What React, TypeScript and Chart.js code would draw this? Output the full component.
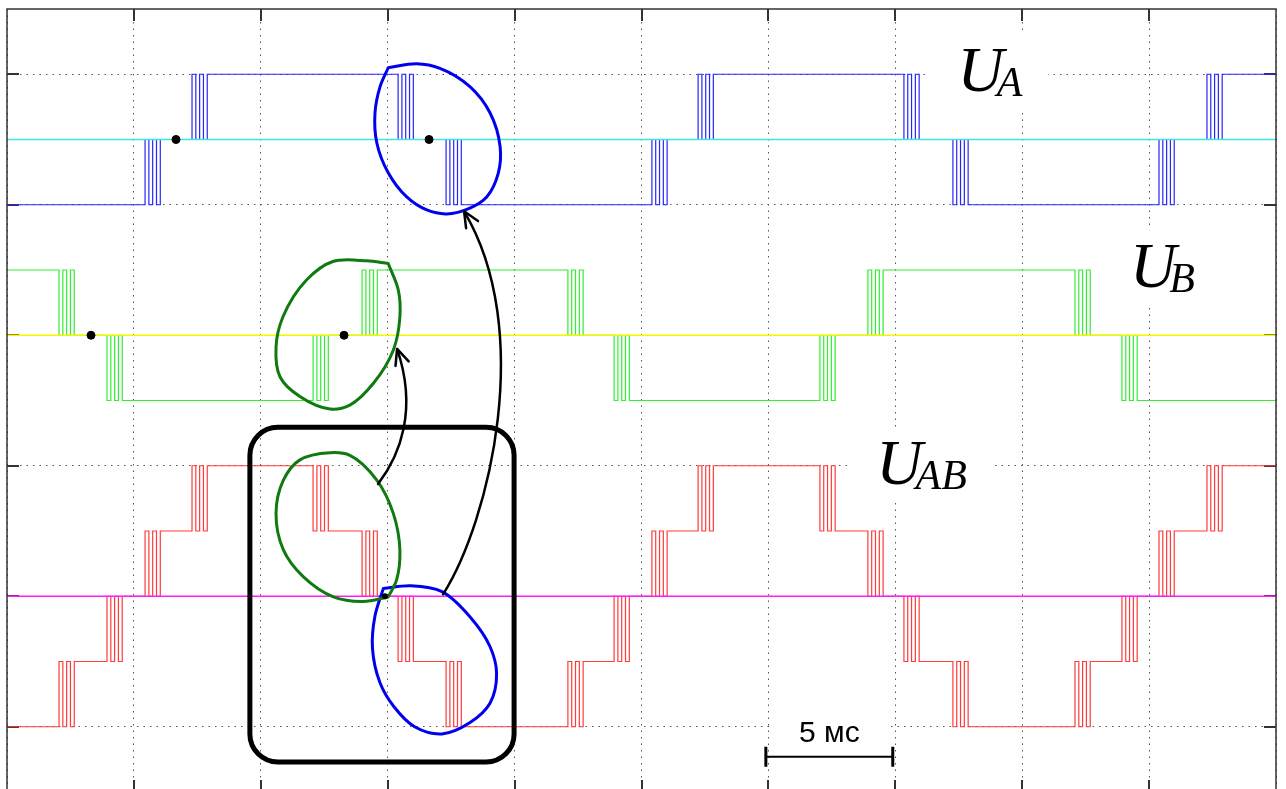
import { useEffect, useRef } from "react";
import { Chart, registerables } from "chart.js";

Chart.register(...registerables);

// ---------- axes ----------
const T_MAX_MS = 50;
const X_GRID_STEP_MS = 5;
const Y_MIN = 0;
const Y_MAX = 12;
const Y_GRID = [1, 3, 5, 7, 9, 11];

// switching burst pattern (edge offsets after each switching instant, ms)
const BURST_EDGES_MS = [0, 0.15, 0.3, 0.45, 0.6];

// ---------- U_A (phase A, three-level) ----------
const UA_BASE = 10;
const UA_START = -1;
const UA_SWITCH_MS = [5.44, 7.29, 15.41, 17.3, 25.41, 27.23, 35.34, 37.27, 45.39, 47.28];
const UA_LEVELS = [0, 1, 0, -1, 0, 1, 0, -1, 0, 1];

// ---------- U_B (phase B, three-level) ----------
const UB_BASE = 7;
const UB_START = 1;
const UB_SWITCH_MS = [2.05, 3.94, 12.06, 13.99, 22.1, 23.92, 32.03, 33.92, 42.08, 43.93];
const UB_LEVELS = [0, -1, 0, 1, 0, -1, 0, 1, 0, -1];

// ---------- U_AB (line voltage, five-level) ----------
const UAB_BASE = 3;
const UAB_START = -2;
const UAB_SWITCH_MS = [
  2.05, 3.94, 5.44, 7.29, 12.06, 13.99, 15.41, 17.3, 22.1, 23.92,
  25.41, 27.23, 32.03, 33.92, 35.34, 37.27, 42.08, 43.93, 45.39, 47.28,
];
const UAB_LEVELS = [-1, 0, 1, 2, 1, 0, -1, -2, -1, 0, 1, 2, 1, 0, -1, -2, -1, 0, 1, 2];

// zero-crossing markers
const MARK_A_MS = [6.66, 16.63];
const MARK_B_MS = [3.31, 13.28];

// ---------- annotation geometry (chart units: ms, divisions) ----------
const LOOP_A_TOP: number[][] = [
  [15.02, 11.1], [16.14, 11.16], [17.06, 11.09], [18.24, 10.81], [19.03, 10.41], [19.43, 9.89],
  [19.36, 9.49], [18.9, 9.12], [18.24, 8.95], [17.32, 8.86], [16.54, 8.92], [15.75, 9.12],
  [15.02, 9.49], [14.57, 9.95], [14.5, 10.41], [14.7, 10.81], [15.02, 11.1],
];
const LOOP_B_TOP: number[][] = [
  [15.02, 8.1], [14.17, 8.14], [12.84, 8.13], [11.81, 7.85], [10.87, 7.28], [10.6, 6.82],
  [10.76, 6.36], [11.54, 6.06], [12.73, 5.87], [13.51, 5.93], [14.43, 6.26], [15.22, 6.77],
  [15.48, 7.28], [15.42, 7.69], [15.02, 8.1],
];
const LOOP_B_LOW: number[][] = [
  [15.02, 2.99], [14.04, 2.92], [12.86, 2.99], [11.67, 3.3], [10.89, 3.71], [10.6, 4.27],
  [10.89, 4.78], [11.54, 5.09], [12.73, 5.2], [13.51, 5.16], [14.57, 4.78], [15.22, 4.27],
  [15.48, 3.71], [15.35, 3.25], [15.02, 2.99],
];
const LOOP_A_LOW: number[][] = [
  [14.83, 3.12], [15.92, 3.16], [17.14, 3.07], [18.23, 2.69], [19.03, 2.23], [19.29, 1.82],
  [19.03, 1.36], [18.23, 1.06], [17.14, 0.89], [16.06, 1.0], [15.24, 1.31], [14.7, 1.67],
  [14.4, 2.2], [14.5, 2.7], [14.83, 3.12],
];
const ARROW_1: number[][] = [[14.62, 4.72], [15.48, 5.16], [16.19, 5.85], [15.37, 6.79]];
const ARROW_2: number[][] = [[17.18, 3.03], [19.03, 4.17], [20.8, 7.08], [18.01, 8.9]];
const JUNCTION: number[] = [14.89, 3.0];
const FRAME_BOX = { x0: 9.57, x1: 19.98, y0: 0.46, y1: 5.59 };

const LABELS = [
  { main: "U", sub: "A", x: 37.45, y: 10.74, box: [36.37, 41.02, 10.48, 11.6] },
  { main: "U", sub: "B", x: 44.25, y: 7.74, box: [43.22, 47.87, 7.43, 8.61] },
  { main: "U", sub: "AB", x: 34.25, y: 4.72, box: [33.22, 38.81, 4.43, 5.58] },
];
const SCALE_BAR = { x0: 29.9, x1: 34.9, y: 0.54, text: "5 мс", textY: 0.77, box: [30.1, 34.83, 0.83, 1.13] };

function buildSignal(base: number, start: number, switches: number[], levels: number[]) {
  const pts: { x: number; y: number }[] = [{ x: 0, y: base + start }];
  let prev = start;
  switches.forEach((t, i) => {
    const next = levels[i];
    BURST_EDGES_MS.forEach((off, k) => {
      pts.push({ x: t + off, y: base + (k % 2 === 0 ? next : prev) });
    });
    prev = next;
  });
  pts.push({ x: T_MAX_MS, y: base + prev });
  return pts;
}

type Pt = { x: number; y: number };

// centripetal Catmull-Rom through the points (open path, linear end extrapolation)
function smoothPath(ctx: CanvasRenderingContext2D, p: Pt[]) {
  const n = p.length;
  const ext = (a: Pt, b: Pt): Pt => ({ x: 2 * a.x - b.x, y: 2 * a.y - b.y });
  const get = (i: number): Pt => (i < 0 ? ext(p[0], p[1]) : i >= n ? ext(p[n - 1], p[n - 2]) : p[i]);
  const d = (a: Pt, b: Pt) => Math.max(Math.sqrt(Math.hypot(a.x - b.x, a.y - b.y)), 1e-3);
  ctx.beginPath();
  ctx.moveTo(p[0].x, p[0].y);
  for (let i = 0; i < n - 1; i++) {
    const p0 = get(i - 1), p1 = get(i), p2 = get(i + 1), p3 = get(i + 2);
    const d1 = d(p0, p1), d2 = d(p1, p2), d3 = d(p2, p3);
    const m1x = (p2.x - p1.x) / d2 - (p2.x - p0.x) / (d1 + d2) + (p1.x - p0.x) / d1;
    const m1y = (p2.y - p1.y) / d2 - (p2.y - p0.y) / (d1 + d2) + (p1.y - p0.y) / d1;
    const m2x = (p2.x - p1.x) / d2 - (p3.x - p1.x) / (d2 + d3) + (p3.x - p2.x) / d3;
    const m2y = (p2.y - p1.y) / d2 - (p3.y - p1.y) / (d2 + d3) + (p3.y - p2.y) / d3;
    ctx.bezierCurveTo(
      p1.x + (m1x * d2) / 3, p1.y + (m1y * d2) / 3,
      p2.x - (m2x * d2) / 3, p2.y - (m2y * d2) / 3,
      p2.x, p2.y
    );
  }
  ctx.stroke();
}

const overlayPlugin = {
  id: "overlay",
  beforeDatasetsDraw(chart: any) {
    const { ctx, chartArea: a, scales } = chart;
    const xs = scales.x;
    const ys = scales.y;
    ctx.save();
    // inward ticks
    ctx.strokeStyle = "#333";
    ctx.lineWidth = 2;
    const L = 12;
    for (let t = X_GRID_STEP_MS; t < T_MAX_MS; t += X_GRID_STEP_MS) {
      const px = Math.round(xs.getPixelForValue(t));
      ctx.beginPath();
      ctx.moveTo(px, a.top);
      ctx.lineTo(px, a.top + L);
      ctx.moveTo(px, a.bottom);
      ctx.lineTo(px, a.bottom - L);
      ctx.stroke();
    }
    Y_GRID.forEach((v) => {
      const py = Math.round(ys.getPixelForValue(v));
      ctx.beginPath();
      ctx.moveTo(a.left, py);
      ctx.lineTo(a.left + L, py);
      ctx.moveTo(a.right, py);
      ctx.lineTo(a.right - L, py);
      ctx.stroke();
    });
    // white label backgrounds
    ctx.fillStyle = "#ffffff";
    [...LABELS.map((l) => l.box), SCALE_BAR.box].forEach((b) => {
      const x0 = xs.getPixelForValue(b[0]);
      const x1 = xs.getPixelForValue(b[1]);
      const y0 = ys.getPixelForValue(b[3]);
      const y1 = ys.getPixelForValue(b[2]);
      ctx.fillRect(x0, y0, x1 - x0, y1 - y0);
    });
    ctx.restore();
  },
  afterDatasetsDraw(chart: any) {
    const { ctx, chartArea: a, scales } = chart;
    const xs = scales.x;
    const ys = scales.y;
    const P = (pt: number[]) => ({ x: xs.getPixelForValue(pt[0]), y: ys.getPixelForValue(pt[1]) });
    ctx.save();
    // frame
    ctx.strokeStyle = "#333";
    ctx.lineWidth = 1.5;
    ctx.strokeRect(a.left, a.top, a.right - a.left, a.bottom - a.top);

    // labels
    ctx.fillStyle = "#000";
    ctx.textBaseline = "alphabetic";
    ctx.textAlign = "left";
    LABELS.forEach((l) => {
      const px = xs.getPixelForValue(l.x);
      const py = ys.getPixelForValue(l.y);
      ctx.font = 'italic 64px "Liberation Serif"';
      const w = ctx.measureText(l.main).width;
      ctx.fillText(l.main, px, py);
      ctx.font = 'italic 42px "Liberation Serif"';
      ctx.fillText(l.sub, px + w - 7, py + 5);
    });

    // loops
    ctx.lineJoin = "round";
    ctx.lineCap = "round";
    ctx.lineWidth = 3;
    ctx.strokeStyle = "#0000ee";
    smoothPath(ctx, LOOP_A_TOP.map(P));
    smoothPath(ctx, LOOP_A_LOW.map(P));
    ctx.strokeStyle = "#0f7a0f";
    smoothPath(ctx, LOOP_B_TOP.map(P));
    smoothPath(ctx, LOOP_B_LOW.map(P));

    // arrows
    ctx.strokeStyle = "#000";
    ctx.lineWidth = 2.5;
    [ARROW_1, ARROW_2].forEach((arr) => {
      const [p0, c1, c2, p3] = arr.map(P);
      ctx.beginPath();
      ctx.moveTo(p0.x, p0.y);
      ctx.bezierCurveTo(c1.x, c1.y, c2.x, c2.y, p3.x, p3.y);
      ctx.stroke();
      const ang = Math.atan2(p3.y - c2.y, p3.x - c2.x);
      const len = 17;
      const sp = 0.42;
      ctx.beginPath();
      ctx.moveTo(p3.x - len * Math.cos(ang - sp), p3.y - len * Math.sin(ang - sp));
      ctx.lineTo(p3.x, p3.y);
      ctx.lineTo(p3.x - len * Math.cos(ang + sp), p3.y - len * Math.sin(ang + sp));
      ctx.stroke();
    });
    const j = P(JUNCTION);
    ctx.fillStyle = "#000";
    ctx.beginPath();
    ctx.arc(j.x, j.y, 3, 0, Math.PI * 2);
    ctx.fill();

    // rounded frame
    const fx0 = xs.getPixelForValue(FRAME_BOX.x0);
    const fx1 = xs.getPixelForValue(FRAME_BOX.x1);
    const fy0 = ys.getPixelForValue(FRAME_BOX.y1);
    const fy1 = ys.getPixelForValue(FRAME_BOX.y0);
    ctx.lineWidth = 5;
    ctx.beginPath();
    (ctx as any).roundRect(fx0, fy0, fx1 - fx0, fy1 - fy0, 28);
    ctx.stroke();

    // scale bar
    const bx0 = xs.getPixelForValue(SCALE_BAR.x0);
    const bx1 = xs.getPixelForValue(SCALE_BAR.x1);
    const by = ys.getPixelForValue(SCALE_BAR.y);
    ctx.lineCap = "butt";
    ctx.lineWidth = 2;
    ctx.beginPath();
    ctx.moveTo(bx0, by);
    ctx.lineTo(bx1, by);
    ctx.stroke();
    ctx.lineWidth = 3;
    ctx.beginPath();
    ctx.moveTo(bx0, by - 10);
    ctx.lineTo(bx0, by + 10);
    ctx.moveTo(bx1, by - 10);
    ctx.lineTo(bx1, by + 10);
    ctx.stroke();
    ctx.font = '30px "Liberation Sans"';
    ctx.textAlign = "center";
    ctx.fillText(SCALE_BAR.text, (bx0 + bx1) / 2, ys.getPixelForValue(SCALE_BAR.textY));
    ctx.restore();
  },
};

export default function App() {
  const ref = useRef<HTMLCanvasElement>(null);
  useEffect(() => {
    const line = (v: number) => [{ x: 0, y: v }, { x: T_MAX_MS, y: v }];
    const signal = (data: any, color: string) => ({
      data,
      borderColor: color,
      borderWidth: 1.2,
      pointRadius: 0,
      stepped: "before" as const,
      fill: false,
    });
    const base = (v: number, color: string) => ({
      data: line(v),
      borderColor: color,
      borderWidth: 1.6,
      pointRadius: 0,
      fill: false,
    });
    const chart = new Chart(ref.current!, {
      type: "line",
      data: {
        datasets: [
          {
            data: [
              ...MARK_A_MS.map((t) => ({ x: t, y: UA_BASE })),
              ...MARK_B_MS.map((t) => ({ x: t, y: UB_BASE })),
            ],
            showLine: false,
            pointRadius: 4,
            pointBackgroundColor: "#000",
            pointBorderColor: "#000",
            borderColor: "#000",
          } as any,
          base(UA_BASE, "#3fe6e6"),
          base(UB_BASE, "#f5f500"),
          base(UAB_BASE, "#ff1aff"),
          signal(buildSignal(UA_BASE, UA_START, UA_SWITCH_MS, UA_LEVELS), "#2626ff"),
          signal(buildSignal(UB_BASE, UB_START, UB_SWITCH_MS, UB_LEVELS), "#33ee33"),
          signal(buildSignal(UAB_BASE, UAB_START, UAB_SWITCH_MS, UAB_LEVELS), "#ff3b3b"),
        ],
      },
      options: {
        animation: false,
        responsive: false,
        events: [],
        layout: { padding: { left: 7, top: 9, right: 10, bottom: 8 }, autoPadding: false },
        plugins: { legend: { display: false }, tooltip: { enabled: false } },
        scales: {
          x: {
            type: "linear",
            min: 0,
            max: T_MAX_MS,
            ticks: { display: false, stepSize: X_GRID_STEP_MS },
            grid: { color: "#555", lineWidth: 1, drawTicks: false },
            border: { display: false, dash: [1.5, 5] },
          },
          y: {
            type: "linear",
            min: Y_MIN,
            max: Y_MAX,
            afterBuildTicks: (s: any) => {
              s.ticks = Y_GRID.map((v) => ({ value: v }));
            },
            ticks: { display: false },
            grid: { color: "#555", lineWidth: 1, drawTicks: false },
            border: { display: false, dash: [1.5, 5] },
          },
        },
      } as any,
      plugins: [overlayPlugin],
    });
    return () => chart.destroy();
  }, []);
  return (
    <div style={{ position: "fixed", left: 0, top: 0, width: 1286, height: 800, background: "#fff" }}>
      <canvas ref={ref} width={1286} height={800} style={{ display: "block", width: 1286, height: 800 }} />
    </div>
  );
}
